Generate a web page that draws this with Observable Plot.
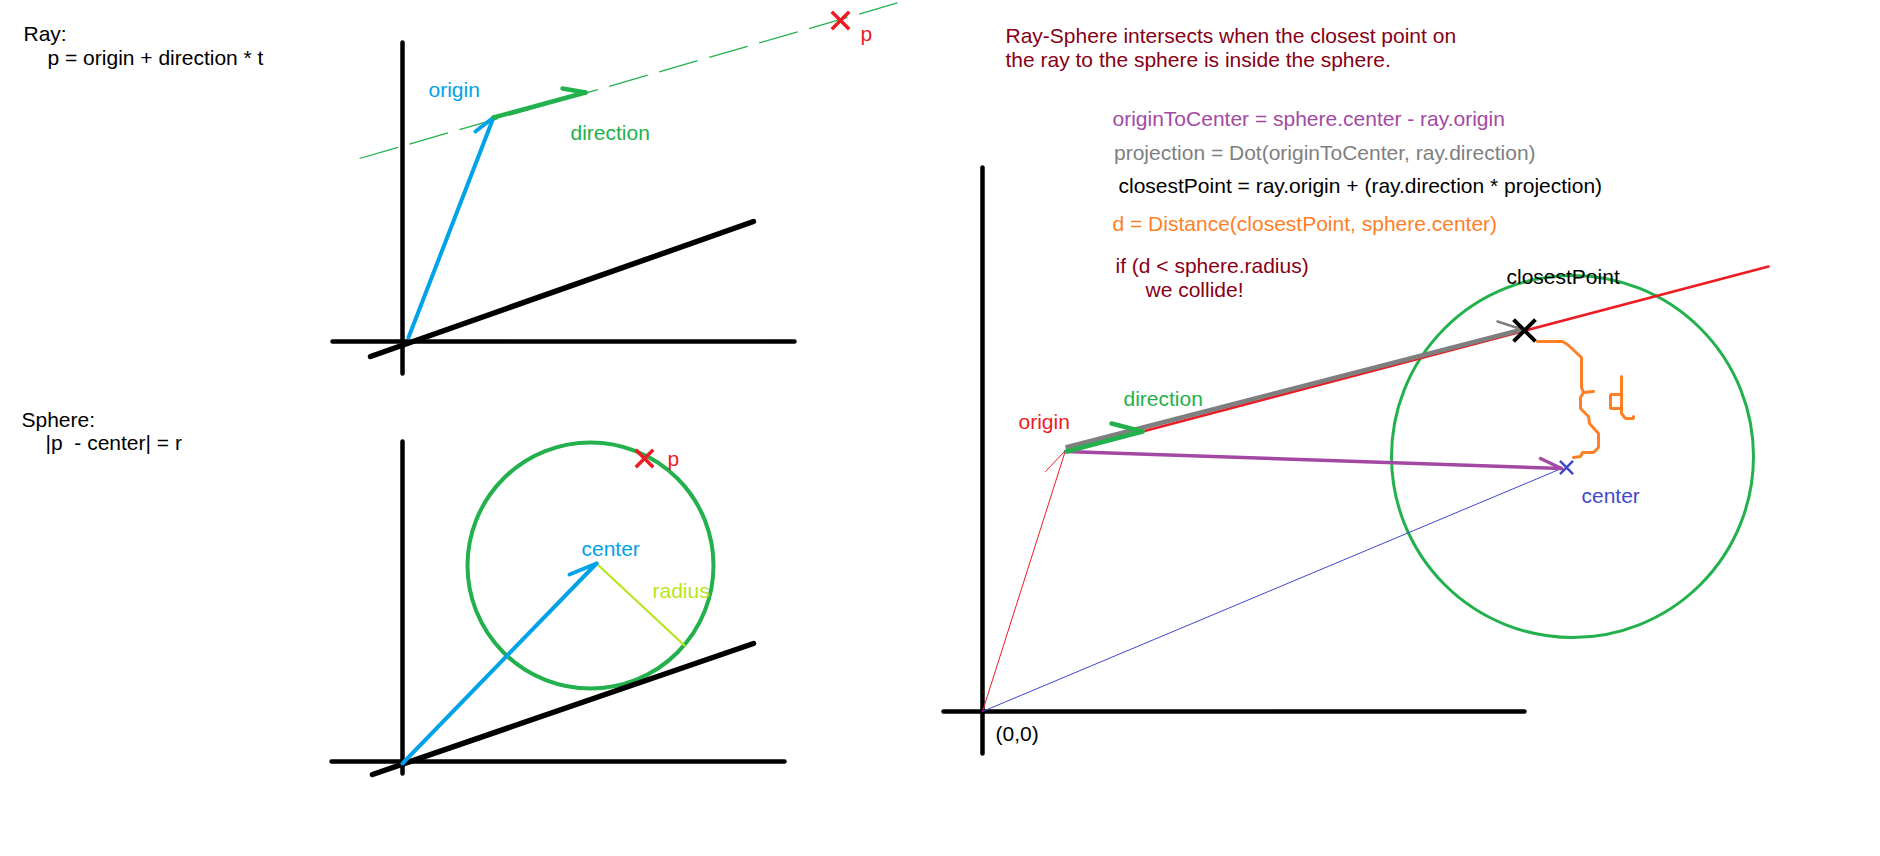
<!DOCTYPE html>
<html>
<head>
<meta charset="utf-8">
<script src="https://cdn.jsdelivr.net/npm/d3@7"></script>
<script src="https://cdn.jsdelivr.net/npm/@observablehq/plot@0.6"></script>
<style>
  html, body { margin: 0; padding: 0; background: #fff; overflow: hidden; }
  #chart svg { display: block; }
</style>
</head>
<body>
<div id="chart"></div>
<script>
// ---------- roles and their colours (MS Paint palette) ----------
const roles  = ["text", "note", "originVec", "direction", "point", "toCenter", "projection", "distance", "center", "radius", "sphere"];
const colors = ["#000000", "#880015", "#00A2E8", "#22B14C", "#ED1C24", "#A349A4", "#7F7F7F", "#FF7F27", "#3F48CC", "#B5E61D", "#22B14C"];

// ---------- coordinate axes (three diagrams) ----------
const axisLines = [
  {x1: 402, y1: 42,  x2: 402, y2: 373, role: "text"},
  {x1: 332, y1: 341, x2: 794, y2: 341, role: "text"},
  {x1: 402, y1: 441, x2: 402, y2: 773, role: "text"},
  {x1: 331, y1: 761, x2: 784, y2: 761, role: "text"},
  {x1: 982, y1: 167, x2: 982, y2: 753, role: "text"},
  {x1: 943, y1: 711, x2: 1524, y2: 711, role: "text"}
];
const depthLines = [
  {x1: 370, y1: 356, x2: 753, y2: 221, role: "text"},
  {x1: 372, y1: 774, x2: 753, y2: 643, role: "text"}
];

// ---------- Ray diagram ----------
const originVectors = [
  {x1: 408, y1: 337, x2: 493, y2: 117, role: "originVec"},
  {x1: 493, y1: 117, x2: 475, y2: 131, role: "originVec"},
  {x1: 402, y1: 763, x2: 596, y2: 563, role: "originVec"},
  {x1: 596, y1: 563, x2: 569, y2: 574, role: "originVec"}
];
const directionVectors = [
  {x1: 493, y1: 117, x2: 585, y2: 92, role: "direction"},
  {x1: 585, y1: 92,  x2: 562, y2: 88, role: "direction"},
  {x1: 1066, y1: 451, x2: 1142, y2: 431, role: "direction"},
  {x1: 1142, y1: 431, x2: 1111, y2: 423, role: "direction"}
];
const rayDashed = [{x1: 359, y1: 158, x2: 909, y2: -1, role: "direction"}];
const pointMarks = [
  {x: 840, y: 20, role: "point"},
  {x: 644, y: 458, role: "point"}
];

// ---------- Sphere diagrams ----------
const spheres = [
  {x: 590, y: 565, r: 123, role: "sphere"},
  {x: 1572, y: 456, r: 181, role: "sphere"}
];
const radiusLine = [{x1: 596, y1: 563, x2: 684, y2: 645, role: "radius"}];

// ---------- Ray-Sphere intersection diagram ----------
const thinOrigin = [
  {x1: 982, y1: 711, x2: 1065, y2: 450, role: "point"},
  {x1: 1045, y1: 471, x2: 1065, y2: 450, role: "point"}
];
const thinCenter = [{x1: 982, y1: 711, x2: 1561, y2: 468, role: "center"}];
const rayLine = [{x1: 1066, y1: 451, x2: 1768, y2: 266, role: "point"}];
const projectionVector = [{x1: 1065, y1: 447, x2: 1522, y2: 329, role: "projection"}];
const projectionHead = [{x1: 1497, y1: 321, x2: 1522, y2: 329, role: "projection"}];
const toCenterVector = [
  {x1: 1065, y1: 451, x2: 1561, y2: 468, role: "toCenter"},
  {x1: 1540, y1: 458, x2: 1561, y2: 468, role: "toCenter"}
];
const centerMark = [{x: 1566, y: 467, role: "center"}];
const closestMark = [{x: 1524, y: 330, role: "text"}];

// hand-drawn brace and "d" for the distance
const bracePath = [
  {x: 1537, y: 341, part: "brace"}, {x: 1562, y: 341, part: "brace"}, {x: 1567, y: 344, part: "brace"},
  {x: 1581, y: 357, part: "brace"}, {x: 1581, y: 387, part: "brace"}, {x: 1583, y: 392, part: "brace"},
  {x: 1580, y: 397, part: "brace"}, {x: 1580, y: 408, part: "brace"}, {x: 1588, y: 416, part: "brace"},
  {x: 1589, y: 423, part: "brace"}, {x: 1598, y: 433, part: "brace"}, {x: 1598, y: 447, part: "brace"},
  {x: 1593, y: 452, part: "brace"}, {x: 1582, y: 452, part: "brace"}, {x: 1580, y: 456, part: "brace"},
  {x: 1573, y: 457, part: "brace"},
  {x: 1583, y: 392, part: "spur"}, {x: 1593, y: 391, part: "spur"},
  {x: 1621, y: 376, part: "stem"}, {x: 1621, y: 413, part: "stem"}, {x: 1625, y: 418, part: "stem"},
  {x: 1633, y: 418, part: "stem"}, {x: 1633, y: 416, part: "stem"},
  {x: 1621, y: 394, part: "bowl"}, {x: 1610, y: 394, part: "bowl"}, {x: 1610, y: 408, part: "bowl"},
  {x: 1621, y: 408, part: "bowl"}
];

// ---------- text ----------
const labels = [
  {text: "Ray:", x: 23, y: 40, role: "text"},
  {text: "p = origin + direction * t", x: 47, y: 64.5, role: "text"},
  {text: "Sphere:", x: 21, y: 426, role: "text"},
  {text: "|p \u00a0- center| = r", x: 45, y: 449, role: "text"},
  {text: "origin", x: 428, y: 96, role: "originVec"},
  {text: "direction", x: 570, y: 139.5, role: "direction"},
  {text: "p", x: 860, y: 40.5, role: "point"},
  {text: "p", x: 667, y: 465.5, role: "point"},
  {text: "center", x: 581, y: 555.7, role: "originVec"},
  {text: "radius", x: 652, y: 597, role: "radius"},
  {text: "Ray-Sphere intersects when the closest point on", x: 1005, y: 42, role: "note"},
  {text: "the ray to the sphere is inside the sphere.", x: 1005, y: 66, role: "note"},
  {text: "originToCenter = sphere.center - ray.origin", x: 1112, y: 125.7, role: "toCenter"},
  {text: "projection = Dot(originToCenter, ray.direction)", x: 1113.5, y: 159, role: "projection"},
  {text: "closestPoint = ray.origin + (ray.direction * projection)", x: 1118, y: 192.7, role: "text"},
  {text: "d = Distance(closestPoint, sphere.center)", x: 1112, y: 230.7, role: "distance"},
  {text: "if (d < sphere.radius)", x: 1115, y: 272.7, role: "note"},
  {text: "we collide!", x: 1145, y: 296, role: "note"},
  {text: "closestPoint", x: 1506, y: 283, role: "text"},
  {text: "origin", x: 1018, y: 428.3, role: "point"},
  {text: "direction", x: 1123, y: 405, role: "direction"},
  {text: "center", x: 1581, y: 502.7, role: "center"},
  {text: "(0,0)", x: 995, y: 740, role: "text"}
];

const seg = {x1: "x1", y1: "y1", x2: "x2", y2: "y2", stroke: "role", strokeLinecap: "round"};

const chart = Plot.plot({
  width: 1880,
  height: 856,
  margin: 0,
  x: {domain: [0, 1880], range: [0, 1880], axis: null},
  y: {domain: [0, 856], range: [0, 856], axis: null},
  r: {type: "identity"},
  color: {type: "ordinal", domain: roles, range: colors},
  style: {background: "#ffffff", fontFamily: "'Liberation Sans', Arial, sans-serif", overflow: "hidden"},
  marks: [
    Plot.dot(spheres.slice(0, 1), {x: "x", y: "y", r: "r", stroke: "role", fill: "none", strokeWidth: 4}),
    Plot.dot(spheres.slice(1), {x: "x", y: "y", r: "r", stroke: "role", fill: "none", strokeWidth: 3}),
    Plot.link(axisLines, {...seg, strokeWidth: 4.5}),
    Plot.link(depthLines, {...seg, strokeWidth: 5.5}),
    Plot.link(rayDashed, {...seg, strokeWidth: 1.3, strokeDasharray: "40,12", strokeLinecap: "butt"}),
    Plot.link(radiusLine, {...seg, strokeWidth: 2.2}),
    Plot.link(thinOrigin, {...seg, strokeWidth: 1}),
    Plot.link(thinCenter, {...seg, strokeWidth: 1}),
    Plot.link(rayLine, {...seg, strokeWidth: 2.6}),
    Plot.link(projectionVector, {...seg, strokeWidth: 4.5, strokeLinecap: "butt"}),
    Plot.link(projectionHead, {...seg, strokeWidth: 2.5}),
    Plot.link(toCenterVector, {...seg, strokeWidth: 3.5}),
    Plot.link(originVectors, {...seg, strokeWidth: 4}),
    Plot.link(directionVectors, {...seg, strokeWidth: 4.5}),
    Plot.line(bracePath, {x: "x", y: "y", z: "part", stroke: () => "distance", strokeWidth: 3, strokeLinejoin: "miter"}),
    Plot.dot(pointMarks, {x: "x", y: "y", symbol: "times", r: 8, stroke: "role", strokeWidth: 3.5}),
    Plot.dot(centerMark, {x: "x", y: "y", symbol: "times", r: 6, stroke: "role", strokeWidth: 2.5}),
    Plot.dot(closestMark, {x: "x", y: "y", symbol: "times", r: 10, stroke: "role", strokeWidth: 4}),
    Plot.text(labels, {x: "x", y: "y", text: "text", fill: "role", textAnchor: "start", lineAnchor: "bottom", fontSize: 21})
  ]
});
document.getElementById("chart").appendChild(chart);
</script>
</body>
</html>
